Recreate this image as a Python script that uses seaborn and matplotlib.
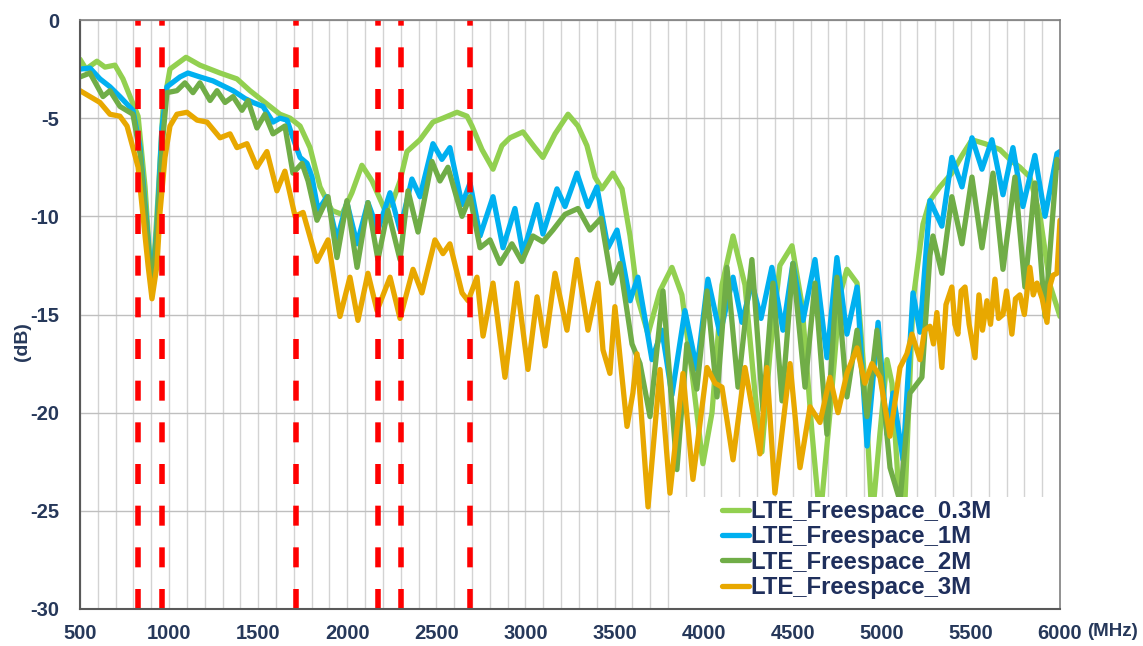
import numpy as np
import pandas as pd
import seaborn as sns
import matplotlib.pyplot as plt
from matplotlib.patches import Rectangle
from matplotlib.ticker import MultipleLocator

# values (MHz, dB)
freq_03 = [500, 534, 595, 640, 696, 741, 781, 826, 865, 904, 938, 966, 1005, 1095, 1173, 1286, 1381, 1454, 1538, 1622,
           1679, 1735, 1791, 1847, 1914, 1970, 2026, 2082, 2139, 2212, 2257, 2296, 2335, 2408, 2481, 2537, 2616, 2672, 2700, 2756,
           2818, 2868, 2913, 2986, 3053, 3098, 3166, 3239, 3295, 3345, 3390, 3429, 3491, 3542, 3587, 3631, 3688, 3755, 3822, 3878,
           3935, 3996, 4047, 4103, 4165, 4232, 4288, 4327, 4372, 4428, 4496, 4552, 4608, 4653, 4709, 4765, 4804, 4861, 4905, 4945,
           4990, 5029, 5057, 5091, 5130, 5175, 5231, 5270, 5326, 5393, 5450, 5506, 5579, 5663, 5730, 5775, 5831, 5888, 5944, 6000]
db_03 = [-2.0, -2.5, -2.1, -2.4, -2.3, -3.0, -3.9, -4.9, -8.5, -13.9, -9.0, -4.5, -2.5, -1.9, -2.3, -2.7, -3.0, -3.6, -4.2, -4.8,
         -5.0, -5.4, -6.5, -8.5, -9.7, -9.9, -8.8, -7.4, -8.2, -9.7, -9.2, -8.2, -6.7, -6.1, -5.2, -5.0, -4.7, -4.9, -5.4, -6.6,
         -7.6, -6.4, -6.0, -5.7, -6.5, -7.0, -5.8, -4.8, -5.4, -6.4, -8.0, -8.6, -7.8, -8.6, -11.0, -14.2, -16.0, -13.8, -12.6, -14.0,
         -18.0, -22.6, -20.0, -13.5, -11.0, -13.5, -19.0, -22.0, -17.0, -12.5, -11.5, -14.5, -21.0, -25.5, -20.0, -14.0, -12.7, -13.4, -18.5, -25.5,
         -21.0, -17.3, -18.5, -23.5, -24.5, -14.3, -10.4, -9.2, -8.5, -7.8, -6.9, -6.1, -6.3, -6.6, -7.2, -7.5, -8.0, -10.0, -13.5, -15.1]

freq_1 = [500, 556, 612, 668, 724, 797, 837, 876, 904, 932, 960, 988, 1061, 1106, 1173, 1246, 1359, 1426, 1471, 1527,
          1583, 1622, 1662, 1695, 1735, 1774, 1802, 1836, 1886, 1942, 1998, 2055, 2116, 2172, 2240, 2296, 2363, 2408, 2481, 2531,
          2576, 2644, 2689, 2745, 2818, 2874, 2941, 2986, 3065, 3098, 3177, 3222, 3289, 3351, 3401, 3463, 3514, 3587, 3631, 3710,
          3766, 3822, 3895, 3962, 4024, 4092, 4165, 4215, 4271, 4322, 4383, 4445, 4501, 4558, 4625, 4692, 4748, 4804, 4861, 4917,
          4979, 5029, 5063, 5119, 5175, 5214, 5270, 5337, 5393, 5450, 5506, 5562, 5618, 5680, 5736, 5792, 5859, 5916, 5983, 6000]
db_1 = [-2.5, -2.45, -3.0, -3.4, -3.9, -4.6, -6.5, -10.5, -13.6, -10.5, -5.5, -3.4, -2.9, -2.7, -2.9, -3.1, -3.6, -4.0, -4.2, -4.4,
        -5.2, -5.0, -5.1, -6.0, -7.0, -7.3, -8.0, -9.7, -9.0, -11.2, -9.3, -11.4, -9.3, -10.7, -8.8, -10.7, -8.1, -9.0, -6.3, -7.1,
        -6.5, -9.4, -8.3, -11.0, -9.0, -11.6, -9.6, -11.9, -9.4, -10.9, -8.6, -9.5, -7.8, -9.5, -8.5, -11.6, -10.7, -14.3, -13.1, -17.3,
        -15.8, -19.1, -14.8, -17.8, -13.2, -16.0, -13.1, -15.4, -13.4, -15.2, -12.6, -15.8, -12.4, -15.3, -12.2, -17.2, -12.1, -16.0, -13.6, -21.7,
        -15.4, -21.1, -19.0, -22.4, -13.9, -15.9, -9.2, -10.5, -7.0, -8.5, -6.0, -7.6, -6.1, -8.9, -6.5, -9.5, -6.9, -10.0, -6.8, -6.7]

freq_2 = [500, 556, 629, 668, 724, 797, 837, 876, 904, 932, 960, 988, 1044, 1089, 1134, 1173, 1230, 1269, 1314, 1359,
          1409, 1443, 1493, 1538, 1583, 1650, 1695, 1746, 1780, 1830, 1892, 1942, 1998, 2055, 2116, 2172, 2228, 2296, 2341, 2397,
          2475, 2520, 2565, 2644, 2689, 2745, 2801, 2857, 2924, 2980, 3042, 3098, 3154, 3222, 3295, 3362, 3424, 3485, 3530, 3598,
          3643, 3699, 3772, 3850, 3906, 3962, 4019, 4075, 4131, 4193, 4271, 4333, 4389, 4440, 4501, 4569, 4625, 4692, 4748, 4804,
          4861, 4917, 4973, 5046, 5102, 5158, 5225, 5270, 5287, 5337, 5393, 5450, 5506, 5562, 5624, 5680, 5747, 5803, 5859, 5916,
          5983, 6000]
db_2 = [-2.9, -2.7, -3.9, -3.6, -4.4, -4.8, -6.8, -10.8, -13.9, -10.8, -6.5, -3.7, -3.6, -3.2, -3.7, -3.2, -4.1, -3.6, -4.2, -3.9,
        -4.6, -4.1, -5.5, -4.8, -5.8, -5.4, -7.8, -7.3, -8.2, -10.2, -9.0, -12.1, -9.2, -12.6, -9.3, -12.2, -9.7, -12.2, -8.7, -10.8,
        -7.2, -8.2, -7.5, -10.0, -9.0, -11.6, -11.2, -12.4, -11.4, -12.3, -11.0, -11.3, -10.7, -9.9, -9.6, -10.7, -10.1, -13.4, -12.4, -16.5,
        -17.5, -20.2, -13.8, -22.9, -16.5, -18.8, -13.8, -19.2, -12.6, -18.7, -12.2, -19.9, -13.4, -19.4, -12.4, -18.7, -13.4, -21.1, -13.1, -19.2,
        -15.8, -20.2, -15.8, -22.8, -24.5, -19.0, -18.2, -12.0, -11.0, -12.9, -9.0, -11.4, -8.0, -11.6, -7.8, -12.7, -8.0, -13.6, -8.3, -15.1,
        -7.1, -7.5]

freq_3 = [500, 556, 612, 668, 724, 764, 797, 826, 854, 882, 904, 932, 949, 977, 1005, 1044, 1100, 1157, 1213, 1286,
          1342, 1381, 1437, 1493, 1549, 1605, 1650, 1707, 1752, 1830, 1892, 1959, 2015, 2060, 2116, 2167, 2240, 2296, 2369, 2419,
          2492, 2537, 2576, 2644, 2678, 2728, 2762, 2818, 2885, 2952, 3014, 3065, 3110, 3166, 3233, 3289, 3351, 3407, 3435, 3474,
          3502, 3570, 3603, 3626, 3688, 3755, 3811, 3884, 3940, 4019, 4064, 4103, 4165, 4232, 4277, 4316, 4355, 4400, 4485, 4541,
          4597, 4653, 4709, 4754, 4804, 4861, 4905, 4945, 4990, 5046, 5102, 5141, 5169, 5214, 5240, 5270, 5290, 5309, 5337, 5360,
          5393, 5410, 5427, 5445, 5467, 5490, 5523, 5545, 5565, 5590, 5610, 5635, 5655, 5680, 5700, 5730, 5750, 5775, 5800, 5831,
          5850, 5871, 5900, 5927, 5945, 5961, 5983, 6000]
db_3 = [-3.6, -3.9, -4.2, -4.8, -4.9, -5.4, -6.5, -7.5, -10.0, -12.5, -14.2, -12.5, -9.8, -7.0, -5.4, -4.8, -4.7, -5.1, -5.2, -6.0,
        -5.8, -6.5, -6.3, -7.5, -6.7, -8.7, -7.7, -10.0, -9.8, -12.3, -11.2, -15.1, -13.1, -15.3, -12.9, -14.8, -13.1, -15.2, -12.7, -13.9,
        -11.2, -11.9, -11.4, -13.9, -14.3, -13.1, -16.1, -13.4, -18.2, -13.4, -17.8, -14.1, -16.6, -12.9, -15.8, -12.2, -15.8, -13.4, -16.8, -18.0,
        -14.6, -20.7, -19.0, -17.0, -24.8, -17.8, -24.1, -18.0, -23.4, -17.7, -18.5, -18.7, -22.4, -17.7, -20.0, -22.1, -17.7, -24.1, -17.5, -22.8,
        -19.7, -20.5, -18.2, -20.0, -18.0, -16.7, -18.5, -17.5, -18.2, -21.2, -17.7, -17.0, -16.0, -17.3, -15.8, -15.6, -16.5, -14.9, -17.7, -14.5,
        -13.6, -15.5, -16.0, -13.8, -13.6, -15.5, -17.2, -14.0, -15.8, -14.3, -15.5, -13.2, -15.2, -15.0, -13.8, -16.0, -14.2, -14.0, -15.0, -12.6,
        -14.0, -13.4, -14.2, -15.4, -13.5, -13.0, -12.9, -10.2]

series_names = ["LTE_Freespace_0.3M", "LTE_Freespace_1M", "LTE_Freespace_2M", "LTE_Freespace_3M"]
series_colors = ["#92D050", "#00B0F0", "#70AD47", "#E8A800"]
band_edges = [824, 960, 1710, 2170, 2300, 2690]

x_ticks = [500, 1000, 1500, 2000, 2500, 3000, 3500, 4000, 4500, 5000, 5500, 6000]
y_ticks = [0, -5, -10, -15, -20, -25, -30]

TEXT = "#26385A"


def main():
    frames = []
    for name, f, d in zip(series_names, [freq_03, freq_1, freq_2, freq_3], [db_03, db_1, db_2, db_3]):
        frames.append(pd.DataFrame({"MHz": f, "dB": d, "series": name}))
    data = pd.concat(frames, ignore_index=True)

    sns.set_style("white")
    plt.rcParams["font.family"] = ["Liberation Sans", "DejaVu Sans"]
    plt.rcParams["font.weight"] = "bold"
    plt.rcParams["axes.unicode_minus"] = False

    fig = plt.figure(figsize=(11.43, 6.46), dpi=100)
    ax = fig.add_axes([80 / 1143, 1 - 609 / 646, 980 / 1143, 589 / 646])

    sns.lineplot(data=data, x="MHz", y="dB", hue="series", hue_order=series_names,
                 palette=series_colors, sort=False, estimator=None, linewidth=3.8,
                 legend=False, ax=ax)
    handles = list(ax.lines[:4])
    for ln in handles:
        ln.set_solid_joinstyle("round")
        ln.set_solid_capstyle("round")

    for b in band_edges:
        ax.axvline(b, color="#FF0000", linewidth=4, linestyle=(0, (3.6, 3.9)), zorder=2.2)

    ax.set_xlim(500, 6000)
    ax.set_ylim(-30, 0)
    ax.set_xticks(x_ticks)
    ax.set_yticks(y_ticks)
    ax.xaxis.set_minor_locator(MultipleLocator(100))
    ax.grid(which="major", axis="y", color="#BFBFBF", linewidth=1.0)
    ax.grid(which="both", axis="x", color="#D3D3D3", linewidth=1.0)
    ax.set_axisbelow(True)
    ax.tick_params(axis="both", which="both", length=0, labelsize=14.5, labelcolor=TEXT)
    ax.tick_params(axis="y", pad=15)
    ax.tick_params(axis="x", pad=11)
    for lab in ax.get_xticklabels() + ax.get_yticklabels():
        lab.set_fontweight("bold")
    ax.set_xlabel("")
    ax.set_ylabel("")

    for side in ["left", "bottom"]:
        ax.spines[side].set_color("#595959")
        ax.spines[side].set_linewidth(1.5)
    for side in ["top", "right"]:
        ax.spines[side].set_color("#7F7F7F")
        ax.spines[side].set_linewidth(1.2)
    for sp in ax.spines.values():
        sp.set_zorder(10)

    # white block behind the legend hides the lines there
    ax.add_patch(Rectangle((0.602, 0.0), 0.398, 0.19, transform=ax.transAxes,
                           facecolor="white", edgecolor="none", zorder=5))
    leg = ax.legend(handles, series_names, loc="upper left", bbox_to_anchor=(0.655, 0.185),
                    frameon=False, borderpad=0, borderaxespad=0, handlelength=1.15,
                    handletextpad=0.05, labelspacing=0.1,
                    prop={"size": 17.2, "weight": "bold", "family": "Liberation Sans"})
    leg.set_zorder(6)
    for t in leg.get_texts():
        t.set_color("#1F2F5C")

    fig.text(22 / 1143, 1 - 342 / 646, "(dB)", rotation=90, ha="center", va="center",
             fontsize=14, fontweight="bold", color=TEXT)
    fig.text(1112 / 1143, 1 - 632 / 646, "(MHz)", ha="center", va="center",
             fontsize=13.5, fontweight="bold", color=TEXT)

    plt.savefig("out.png", dpi=100)
    plt.close()


if __name__ == "__main__":
    main()
